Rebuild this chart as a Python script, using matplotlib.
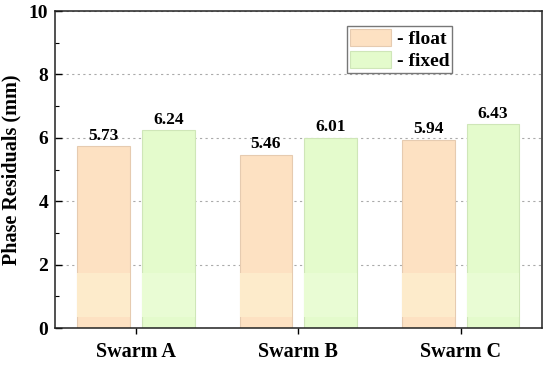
import numpy as np
import matplotlib
matplotlib.use('Agg')
import matplotlib.pyplot as plt
from matplotlib.ticker import MultipleLocator

groups = ['Swarm A', 'Swarm B', 'Swarm C']
float_vals = [5.73, 5.46, 5.94]
fixed_vals = [6.24, 6.01, 6.43]

plt.rcParams['font.family'] = ['Liberation Serif', 'DejaVu Serif']
plt.rcParams['font.weight'] = 'bold'

fig = plt.figure(figsize=(5.5, 3.67), dpi=100)
ax = fig.add_axes([0.1, 0.106, 0.885, 0.864])

x = np.arange(len(groups))
w = 0.325
off = 0.2

b1 = ax.bar(x - off, float_vals, w, color='#fde1c2', edgecolor='#e6cbb0',
            linewidth=0.8, label='- float', zorder=2)
b2 = ax.bar(x + off, fixed_vals, w, color='#e4fbcc', edgecolor='#cfe6b8',
            linewidth=0.8, label='- fixed', zorder=2)
# lighter band near the bottom of the bars (gradient look)
ax.bar(x - off, [1.4] * 3, w, bottom=0.35, color='#fdebcb', linewidth=0, zorder=2.5)
ax.bar(x + off, [1.4] * 3, w, bottom=0.35, color='#e9fcd4', linewidth=0, zorder=2.5)

for bars, vals in ((b1, float_vals), (b2, fixed_vals)):
    for r, v in zip(bars, vals):
        ax.text(r.get_x() + r.get_width() / 2, v + 0.08, f'{v:.2f}',
                ha='center', va='bottom', fontsize=12.5, fontweight='bold')

ax.set_xlim(-0.5, 2.5)
ax.set_ylim(0, 10)
ax.set_xticks(x)
ax.set_xticklabels(groups, fontsize=14.5, fontweight='bold')
ax.yaxis.set_major_locator(MultipleLocator(2))
ax.yaxis.set_minor_locator(MultipleLocator(1))
for t in ax.get_yticklabels():
    t.set_fontsize(14)
    t.set_fontweight('bold')
ax.tick_params(axis='x', which='major', direction='out', length=4, width=1, pad=6)
ax.tick_params(axis='y', which='major', direction='in', length=5, width=1, pad=5)
ax.tick_params(axis='y', which='minor', direction='in', length=3, width=0.8)
ax.set_ylabel('Phase Residuals (mm)', fontsize=14.5, fontweight='bold', labelpad=5)

ax.yaxis.grid(True, linestyle=(0, (2, 3)), color='#aaaaaa', linewidth=0.8, zorder=0)
ax.set_axisbelow(True)
for s in ax.spines.values():
    s.set_linewidth(1.1)
    s.set_color('#222222')

leg = ax.legend(loc='upper left', bbox_to_anchor=(0.6, 0.953),
                frameon=True, fancybox=False, edgecolor='#555555',
                handlelength=2.1, handleheight=0.95, handletextpad=0.3,
                borderpad=0.15, labelspacing=0.15, borderaxespad=0,
                prop={'weight': 'bold', 'size': 14})
leg.get_frame().set_linewidth(1.0)

fig.savefig('out.png', dpi=100)
